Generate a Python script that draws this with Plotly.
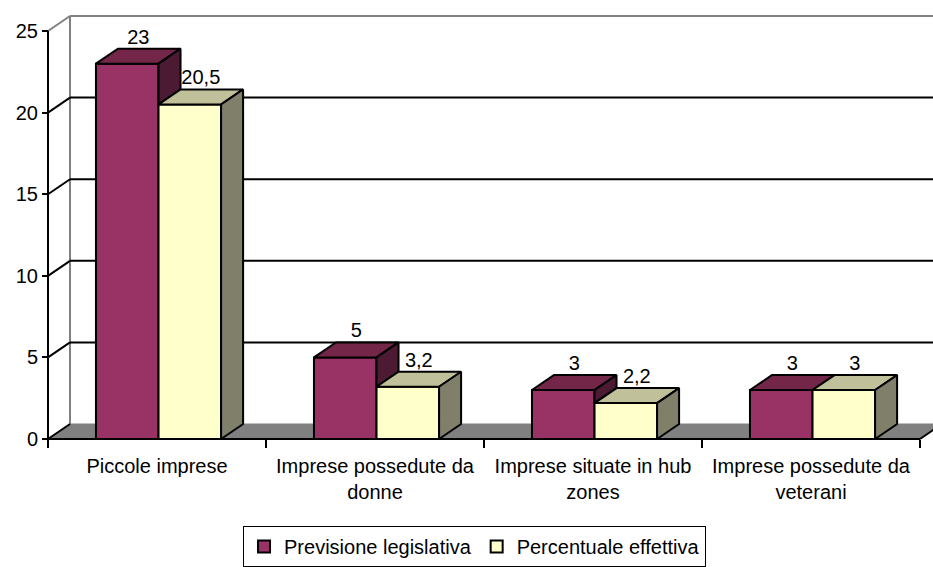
import plotly.graph_objects as go

# --- data -------------------------------------------------------------
categories = [
    "Piccole imprese",
    "Imprese possedute da<br>donne",
    "Imprese situate in hub<br>zones",
    "Imprese possedute da<br>veterani",
]
previsione = [23, 5, 3, 3]
effettiva = [20.5, 3.2, 2.2, 3]
series_names = ["Previsione legislativa", "Percentuale effettiva"]
y_ticks = [0, 5, 10, 15, 20, 25]

# --- styling ----------------------------------------------------------
FONT = "Liberation Sans, Arial, sans-serif"
FS = 20
W, H = 933, 567
X_RANGE = [-0.7202, 3.5596]      # the plotting area covers the whole page
Y_RANGE = [-7.843, 26.90]
DX, DY = 0.1009, 0.919           # oblique depth offset of the 3-D box
BAR_W = 0.287
OFFSETS = [-0.28, 0.007]
COLORS = [
    dict(front="#993366", top="#732648", side="#4D1A33"),
    dict(front="#FFFFCC", top="#C0C09A", side="#80806A"),
]
series = [previsione, effettiva]
cat_x = list(range(len(categories)))
x_left = cat_x[0] - 0.5
x_right = cat_x[-1] + 0.5
y_top = y_ticks[-1]


def fmt(v):
    return ("%g" % v).replace(".", ",")


fig = go.Figure()

# front faces of the columns
for s, vals in enumerate(series):
    fig.add_trace(go.Bar(
        x=cat_x, y=vals, base=0, width=BAR_W, offset=OFFSETS[s],
        name=series_names[s],
        marker=dict(color=COLORS[s]["front"], line=dict(color="black", width=2)),
        hoverinfo="skip",
    ))


def poly(xs, ys, color):
    fig.add_trace(go.Scatter(
        x=xs + xs[:1], y=ys + ys[:1], mode="lines", fill="toself",
        fillcolor=color, line=dict(color="black", width=2),
        showlegend=False, hoverinfo="skip",
    ))


# top and side faces
for i, c in enumerate(cat_x):
    for s, vals in enumerate(series):
        v = vals[i]
        x0 = c + OFFSETS[s]
        x1 = x0 + BAR_W
        poly([x0, x1, x1 + DX, x0 + DX], [v, v, v + DY, v + DY], COLORS[s]["top"])
        if s == 0:
            # only the part of the side face that rises above the neighbour
            nxt = series[1][i]
            if v > nxt:
                poly([x1, x1, x1 + DX, x1 + DX], [nxt, v, v + DY, nxt + DY], COLORS[s]["side"])
        else:
            poly([x1, x1, x1 + DX, x1 + DX], [0, v, v + DY, DY], COLORS[s]["side"])

# value labels above each column
for s, vals in enumerate(series):
    fig.add_trace(go.Scatter(
        x=[c + OFFSETS[s] + BAR_W / 2 + DX / 2 for c in cat_x],
        y=[v + DY for v in vals],
        text=[fmt(v) for v in vals],
        mode="text", textposition="top center",
        textfont=dict(family=FONT, size=FS, color="black"),
        showlegend=False, hoverinfo="skip", cliponaxis=False,
    ))

# walls, floor and gridlines of the 3-D box
shapes = []
shapes.append(dict(type="path", layer="below",
                   path=f"M {x_left},0 L {x_right},0 L {x_right + DX},{DY} L {x_left + DX},{DY} Z",
                   fillcolor="#808080", line=dict(color="#808080", width=1)))
shapes.append(dict(type="line", layer="below", x0=x_left + DX, y0=DY, x1=x_left + DX, y1=y_top + DY,
                   line=dict(color="#808080", width=2)))
for t in y_ticks:
    col = "#808080" if t == y_top else "black"
    if t > 0:
        shapes.append(dict(type="line", layer="below", x0=x_left + DX, y0=t + DY,
                           x1=x_right + 2 * DX, y1=t + DY, line=dict(color=col, width=2)))
    shapes.append(dict(type="line", layer="below", x0=x_left, y0=t, x1=x_left + DX, y1=t + DY,
                       line=dict(color=col, width=2)))
# front axis lines
shapes.append(dict(type="line", layer="below", x0=x_left, y0=0, x1=x_left, y1=y_top,
                   line=dict(color="black", width=2)))
shapes.append(dict(type="line", layer="below", x0=x_left, y0=0, x1=x_right, y1=0,
                   line=dict(color="black", width=2)))
shapes.append(dict(type="line", layer="below", x0=x_right, y0=0, x1=x_right + DX, y1=DY,
                   line=dict(color="black", width=2)))

fig.update_layout(
    width=W, height=H, autosize=False,
    margin=dict(l=0, r=0, t=0, b=0, autoexpand=False),
    paper_bgcolor="white", plot_bgcolor="white",
    font=dict(family=FONT, size=FS, color="black"),
    barmode="overlay",
    shapes=shapes,
    showlegend=True,
    legend=dict(orientation="h", x=0.5086, xanchor="center", y=0.0, yanchor="bottom",
                bordercolor="black", borderwidth=1, bgcolor="white",
                font=dict(family=FONT, size=FS, color="black"),
                itemwidth=30, tracegroupgap=0),
    xaxis=dict(range=X_RANGE, anchor="free", position=128 / 567,
               tickvals=cat_x, ticktext=categories, ticks="",
               showgrid=False, zeroline=False, showline=False,
               tickfont=dict(family=FONT, size=FS, color="black"),
               ticklabelstandoff=13,
               minor=dict(tickvals=[c - 0.5 for c in cat_x] + [x_right], ticks="outside",
                          ticklen=8, tickwidth=2, tickcolor="black"),
               fixedrange=True),
    yaxis=dict(range=Y_RANGE, anchor="free", position=48 / 933,
               tickvals=y_ticks, ticks="outside", ticklen=6, tickwidth=2, tickcolor="black",
               showgrid=False, zeroline=False, showline=False,
               tickfont=dict(family=FONT, size=FS, color="black"),
               fixedrange=True),
)

fig.write_html("out.html")
